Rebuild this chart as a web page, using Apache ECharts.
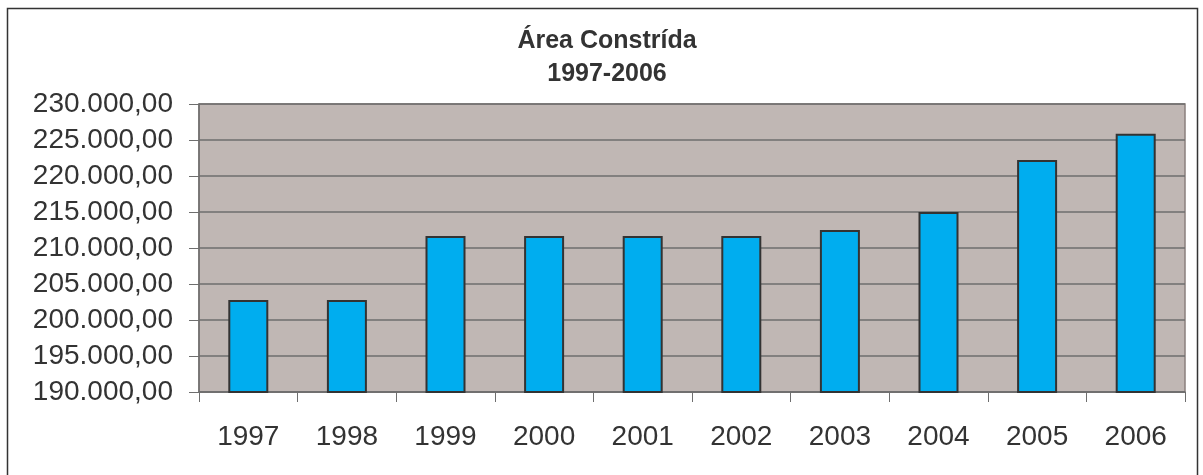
<!DOCTYPE html>
<html>
<head>
<meta charset="utf-8">
<script src="https://cdn.jsdelivr.net/npm/echarts@6/dist/echarts.min.js"></script>
<style>
  html, body { margin: 0; padding: 0; background: #fff; }
  #chart { width: 1203px; height: 475px; }
</style>
</head>
<body>
<div id="chart"></div>
<script>
  let years = ['1997', '1998', '1999', '2000', '2001', '2002', '2003', '2004', '2005', '2006'];
  let area = [202780, 202780, 211670, 211670, 211670, 211670, 212500, 215000, 222220, 225880];
  let titleLines = ['Área Constrída', '1997-2006'];

  let chart = echarts.init(document.getElementById('chart'));

  // 230000 -> "230.000,00"
  function fmt(v) {
    let s = String(Math.round(v)).replace(/\B(?=(\d{3})+(?!\d))/g, '.');
    return s + ',00';
  }

  let option = {
    animation: false,
    textStyle: { fontFamily: '"Liberation Sans", Arial, sans-serif' },
    title: {
      text: titleLines.join('\n'),
      left: 602,
      textAlign: 'center',
      top: 20,
      textStyle: { fontSize: 25, fontWeight: 'bold', color: '#333', lineHeight: 33 }
    },
    graphic: [{
      type: 'rect',
      shape: { x: 7.5, y: 8.5, width: 1190, height: 470 },
      style: { fill: 'none', stroke: '#333', lineWidth: 1.5 },
      silent: true
    }],
    grid: {
      left: 199, right: 18, top: 104, bottom: 83,
      show: true,
      backgroundColor: '#c0b7b4',
      borderColor: '#8a807d',
      borderWidth: 1.5
    },
    xAxis: {
      type: 'category',
      data: years,
      axisLine: { lineStyle: { color: '#6e6e6e', width: 1.5 } },
      axisTick: { show: true, length: 10, lineStyle: { color: '#6e6e6e' } },
      axisLabel: { fontSize: 28, color: '#333', margin: 31 }
    },
    yAxis: {
      type: 'value',
      min: 190000,
      max: 230000,
      interval: 5000,
      axisLine: { show: true, lineStyle: { color: '#6e6e6e', width: 1.5 } },
      axisTick: { show: true, length: 10, lineStyle: { color: '#6e6e6e' } },
      splitLine: { lineStyle: { color: '#6e6e6e', width: 1.5 } },
      axisLabel: { fontSize: 28, color: '#333', margin: 26, formatter: fmt }
    },
    series: [{
      type: 'bar',
      data: area,
      barWidth: 40,
      itemStyle: { color: '#00adef', borderColor: '#333', borderWidth: 2 }
    }]
  };

  chart.setOption(option);
</script>
</body>
</html>
